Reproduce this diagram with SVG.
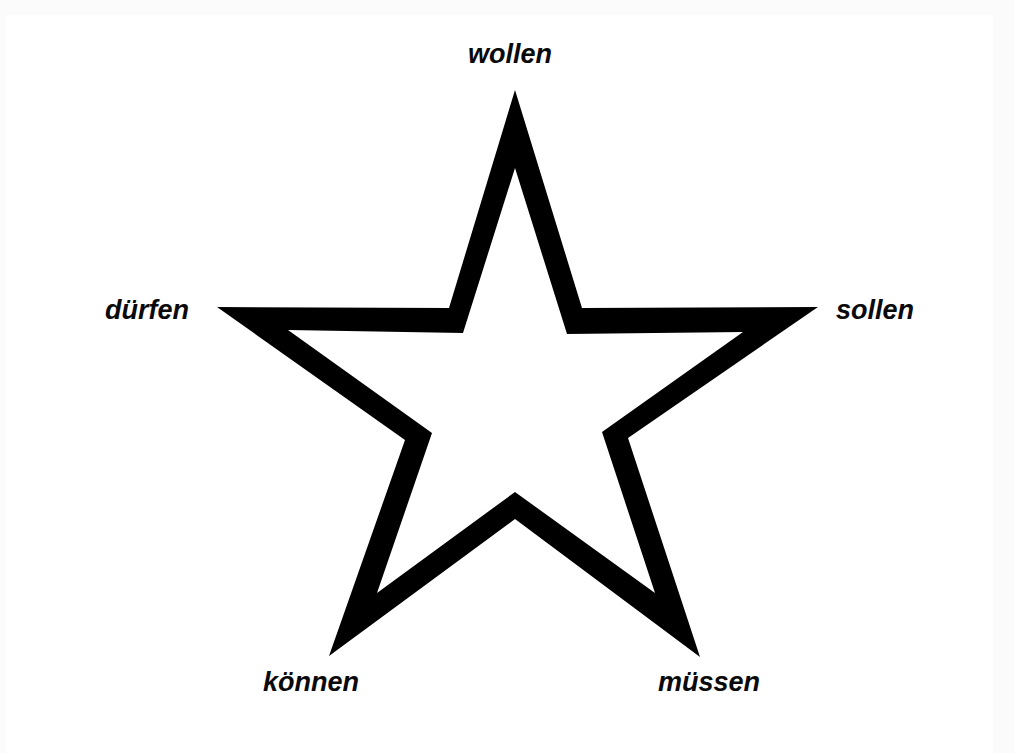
<svg xmlns="http://www.w3.org/2000/svg" width="1014" height="753" viewBox="0 0 1014 753">
  <style>
    .lbl { font-family: "Liberation Sans", Arial, sans-serif; font-size: 27px; font-weight: bold; font-style: italic; fill: #0a0a0a; text-anchor: middle; }
  </style>
  <rect x="0" y="0" width="1014" height="753" fill="#fbfbfb"/>
  <rect x="6" y="15" width="987" height="738" fill="#ffffff"/>
  <g id="star">
    <path fill="#000" fill-rule="evenodd" d="M515,90 L582,308 L818,307 L628,438 L700,657 L515,519 L329,656 L405,440 L217,307 L449,308 Z M515,168 L463,333 L288,330 L432,433 L377,593 L515,492 L655,593 L602,432 L743,332 L567,334 Z"/>
  </g>
  <g id="node-wollen"><text class="lbl" x="510" y="63">wollen</text></g>
  <g id="node-sollen"><text class="lbl" x="875" y="319">sollen</text></g>
  <g id="node-muessen"><text class="lbl" x="709" y="691">müssen</text></g>
  <g id="node-koennen"><text class="lbl" x="311" y="691">können</text></g>
  <g id="node-duerfen"><text class="lbl" x="147" y="319">dürfen</text></g>
  <g id="connectors"></g>
</svg>
